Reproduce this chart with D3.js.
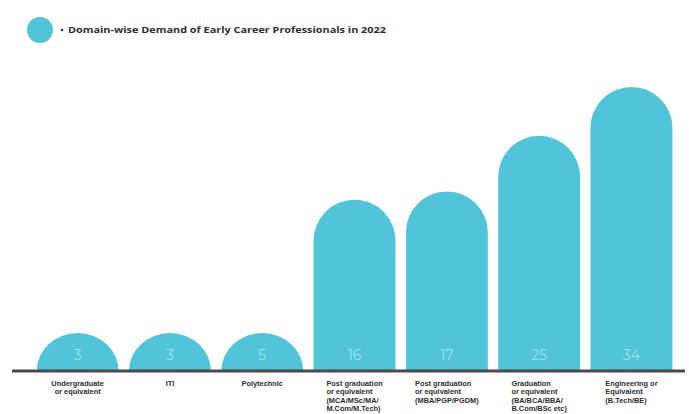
<!DOCTYPE html>
<html>
<head>
<meta charset="utf-8">
<script src="https://cdn.jsdelivr.net/npm/d3@7"></script>
<style>
  html, body { margin: 0; padding: 0; background: #ffffff; }
  svg { display: block; }
</style>
</head>
<body>
<div id="chart"></div>
<script>
// ---- data ----
const categories = [
  "Undergraduate|or equivalent",
  "ITI",
  "Polytechnic",
  "Post graduation|or equivalent|(MCA/MSc/MA/|M.Com/M.Tech)",
  "Post graduation|or equivalent|(MBA/PGP/PGDM)",
  "Graduation|or equivalent|(BA/BCA/BBA/|B.Com/BSc etc)",
  "Engineering or|Equivalent|(B.Tech/BE)"
];
const values = [3, 3, 5, 16, 17, 25, 34];
const titleText = "Domain-wise Demand of Early Career Professionals in 2022";

// ---- layout ----
const W = 689, H = 414;
const baseline = 371;
const barColor = "#52c4da";

const svg = d3.select("#chart").append("svg")
  .attr("width", W).attr("height", H);

const x = d3.scaleBand()
  .domain(categories)
  .range([31.5, 677.6])
  .paddingInner(0.112)
  .paddingOuter(0.056);

// designer's compressed scale: small values share a minimum (half-dome) height
const y = d3.scalePow().exponent(0.28)
  .domain([5, 34])
  .range([baseline - 38, baseline - 284])
  .clamp(true);

const bw = x.bandwidth();
const r = bw / 2;

function barPath(x0, top) {
  const h = baseline - top;
  const p = d3.path();
  if (h >= r) {
    p.moveTo(x0, baseline);
    p.lineTo(x0, top + r);
    p.arc(x0 + r, top + r, r, Math.PI, 2 * Math.PI);
    p.lineTo(x0 + bw, baseline);
    p.closePath();
    return p.toString();
  }
  // flattened dome
  return `M${x0},${baseline} A${r},${h} 0 0 1 ${x0 + bw},${baseline} Z`;
}

svg.append("g").selectAll("path")
  .data(values)
  .join("path")
  .attr("d", (d, i) => barPath(x(categories[i]), y(d)))
  .attr("fill", barColor);

// value labels inside bars
svg.append("g").selectAll("text")
  .data(values)
  .join("text")
  .attr("x", (d, i) => x(categories[i]) + r)
  .attr("y", baseline - 11)
  .attr("text-anchor", "middle")
  .attr("font-family", "Montserrat, 'Open Sans', sans-serif")
  .attr("font-size", 14)
  .attr("fill", "#a9e2ec")
  .text(d => d);

// baseline
svg.append("line")
  .attr("x1", 12).attr("x2", 685)
  .attr("y1", baseline).attr("y2", baseline)
  .attr("stroke", "#4a4a4a")
  .attr("stroke-width", 3);

// category labels (block centered, lines left-aligned)
const lab = svg.append("g")
  .attr("font-family", "'Liberation Sans', Arial, sans-serif")
  .attr("font-weight", "bold")
  .attr("font-size", 7.4)
  .attr("fill", "#2e2e2e");

categories.forEach((c, i) => {
  const lines = c.split("|");
  const cx = x(c) + r;
  const t = lab.append("text");
  lines.forEach((ln, j) => {
    t.append("tspan").attr("x", cx).attr("y", 386 + j * 8.4).text(ln);
  });
  if (lines.length === 1 || i === 0) {
    t.attr("text-anchor", "middle");
  } else {
    let maxW = 0;
    t.selectAll("tspan").each(function() { maxW = Math.max(maxW, this.getComputedTextLength()); });
    t.selectAll("tspan").attr("x", cx - maxW / 2);
  }
});

// legend
svg.append("circle")
  .attr("cx", 40).attr("cy", 30).attr("r", 13)
  .attr("fill", barColor);
svg.append("circle")
  .attr("cx", 62).attr("cy", 30).attr("r", 1.3)
  .attr("fill", "#333");
svg.append("text")
  .attr("x", 68).attr("y", 33)
  .attr("font-family", "'Open Sans', sans-serif")
  .attr("font-weight", "bold")
  .attr("font-size", 9)
  .attr("fill", "#2e2e2e")
  .attr("textLength", 318)
  .attr("lengthAdjust", "spacingAndGlyphs")
  .text(titleText);
</script>
</body>
</html>
